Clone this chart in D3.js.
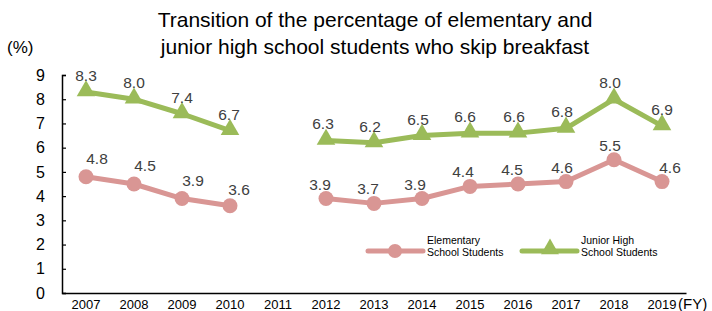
<!DOCTYPE html>
<html><head><meta charset="utf-8">
<script src="https://cdn.jsdelivr.net/npm/d3@7"></script>
<style>body{margin:0;background:#fff}svg{display:block;font-family:"Liberation Sans",Arial,sans-serif}</style>
</head><body><svg id="c" width="712" height="311"></svg>
<script>
const years = ["2007","2008","2009","2010","2011","2012","2013","2014","2015","2016","2017","2018","2019"];
const elementary = [4.8,4.5,3.9,3.6,null,3.9,3.7,3.9,4.4,4.5,4.6,5.5,4.6];
const juniorHigh = [8.3,8.0,7.4,6.7,null,6.3,6.2,6.5,6.6,6.6,6.8,8.0,6.9];
const yTicks = [0,1,2,3,4,5,6,7,8,9];
const titleLines = ["Transition of the percentage of elementary and","junior high school students who skip breakfast"];
const elemLabelDx = [11,11,11,9,0,-6,-6,-7,-7,-6,-4,-4,8];
const elemLabelDy = [13,13,13,11,0,9,9,9,9,9,9,9,9];
const jhLabelDx = [0,0,0,-1,0,-3,-4,-4,-5,-4,-4,-4,0];

const svg = d3.select("#c");
const x = d3.scaleBand().domain(years).range([62,686]);
const y = d3.scaleLinear().domain([0,9]).range([293,75]);
const cx = d => x(d) + x.bandwidth()/2;

svg.append("text").attr("x",375).attr("y",27).attr("text-anchor","middle").attr("font-size",21).attr("fill","#000").text(titleLines[0]);
svg.append("text").attr("x",375).attr("y",54).attr("text-anchor","middle").attr("font-size",21).attr("fill","#000").text(titleLines[1]);
svg.append("text").attr("x",7).attr("y",53).attr("font-size",17).text("(%)");

const yAxis = svg.append("g").attr("transform","translate(62,0)")
  .call(d3.axisLeft(y).tickValues(yTicks).tickSize(-4).tickPadding(17).tickFormat(d3.format("d")));
yAxis.select(".domain").attr("stroke","#000").attr("stroke-width",1.5);
yAxis.selectAll(".tick line").attr("stroke","#000").attr("stroke-width",1.2);
yAxis.selectAll("text").attr("font-size",16).attr("fill","#000").attr("font-family","Liberation Sans, Arial, sans-serif");

const xAxis = svg.append("g").attr("transform","translate(0,293)")
  .call(d3.axisBottom(x).tickSize(0).tickPadding(7));
xAxis.select(".domain").attr("stroke","#000").attr("stroke-width",1.5);
xAxis.selectAll("text").attr("font-size",13).attr("fill","#000").attr("font-family","Liberation Sans, Arial, sans-serif");
svg.append("text").attr("x",678).attr("y",309).attr("font-size",15).text("(FY)");

const pink = "#d99694", green = "#9bbb59";
const line = d3.line().defined(d => d.v !== null).x(d => cx(d.yr)).y(d => y(d.v));
function series(vals, color, marker, dxs, dys){
  const data = years.map((yr,i)=>({yr, v: vals[i], dx: dxs[i], dy: dys[i]}));
  svg.append("path").datum(data).attr("d",line).attr("fill","none").attr("stroke",color).attr("stroke-width",5).attr("stroke-linejoin","round");
  const pts = data.filter(d=>d.v!==null);
  if (marker==="circle") {
    svg.selectAll(null).data(pts).enter().append("circle").attr("cx",d=>cx(d.yr)).attr("cy",d=>y(d.v)).attr("r",7.5).attr("fill",color);
  } else {
    const sym = d3.symbol().type(d3.symbolTriangle).size(150);
    svg.selectAll(null).data(pts).enter().append("path").attr("d",sym).attr("transform",d=>`translate(${cx(d.yr)},${y(d.v)-1})`).attr("fill",color);
  }
  svg.selectAll(null).data(pts).enter().append("text").attr("x",d=>cx(d.yr)+d.dx).attr("y",d=>y(d.v)-d.dy)
    .attr("text-anchor","middle").attr("font-size",15.5).attr("fill","#404040").text(d=>d3.format(".1f")(d.v));
}
series(juniorHigh, green, "triangle", jhLabelDx, years.map(()=>11));
series(elementary, pink, "circle", elemLabelDx, elemLabelDy);

// legend
function legend(x0, color, marker, l1, l2){
  svg.append("line").attr("x1",x0).attr("x2",x0+55).attr("y1",251).attr("y2",251).attr("stroke",color).attr("stroke-width",5).attr("stroke-linecap","round");
  if (marker==="circle") svg.append("circle").attr("cx",x0+27).attr("cy",251).attr("r",7).attr("fill",color);
  else svg.append("path").attr("d",d3.symbol().type(d3.symbolTriangle).size(140)).attr("transform",`translate(${x0+28},${249})`).attr("fill",color);
  svg.append("text").attr("x",x0+59).attr("y",244).attr("font-size",10.5).attr("fill","#000").text(l1);
  svg.append("text").attr("x",x0+59).attr("y",256).attr("font-size",10.5).attr("fill","#000").text(l2);
}
legend(368, pink, "circle", "Elementary", "School Students");
legend(522, green, "triangle", "Junior High", "School Students");
</script></body></html>
